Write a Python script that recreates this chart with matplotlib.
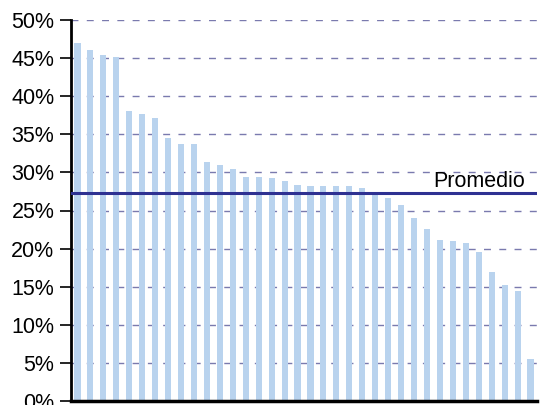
import matplotlib
matplotlib.use('Agg')
import matplotlib.pyplot as plt
import matplotlib.transforms as mtransforms
from matplotlib.ticker import PercentFormatter, MultipleLocator

plt.rcParams['font.family'] = ['Liberation Sans', 'DejaVu Sans']

# share per item, sorted high to low
values = [47.0, 46.0, 45.4, 45.2, 38.0, 37.6, 37.2, 34.5, 33.7, 33.7,
          31.3, 31.0, 30.4, 29.4, 29.4, 29.3, 28.9, 28.3, 28.2, 28.2,
          28.2, 28.2, 28.0, 27.4, 26.7, 25.7, 24.0, 22.6, 21.1, 21.0,
          20.7, 19.6, 16.9, 15.2, 14.5, 5.5]
average = 27.3
average_label = 'Promedio'

fig = plt.figure(figsize=(5.45, 4.05), dpi=100)
ax = fig.add_axes([71 / 545, 4 / 405, 466 / 545, 381 / 405])

x = range(len(values))
ax.bar(x, values, width=0.47, color='#b9d3ee', zorder=2)

ax.axhline(average, color='#2e3192', lw=2.2, zorder=3)
trans = mtransforms.blended_transform_factory(ax.transAxes, ax.transData)
ax.annotate(average_label, xy=(1, average), xycoords=trans,
            xytext=(-12, 6), textcoords='offset pixels',
            ha='right', va='baseline', fontsize=15.5, color='black')

ax.set_xlim(-0.5, len(values) - 0.5)
ax.set_ylim(0, 50)
ax.yaxis.set_major_locator(MultipleLocator(5))
ax.yaxis.set_major_formatter(PercentFormatter(decimals=0))
ax.set_xticks([])

ax.yaxis.grid(True, color='#7a7aae', linestyle=(0, (5, 6)), lw=1.0, zorder=0)
ax.set_axisbelow(True)

for side in ('top', 'right'):
    ax.spines[side].set_visible(False)
ax.spines['left'].set_linewidth(2)
ax.spines['bottom'].set_linewidth(2.5)
ax.tick_params(axis='y', direction='out', length=8, width=1.2,
               labelsize=15.5, pad=4)

fig.savefig('out.png', dpi=100)
